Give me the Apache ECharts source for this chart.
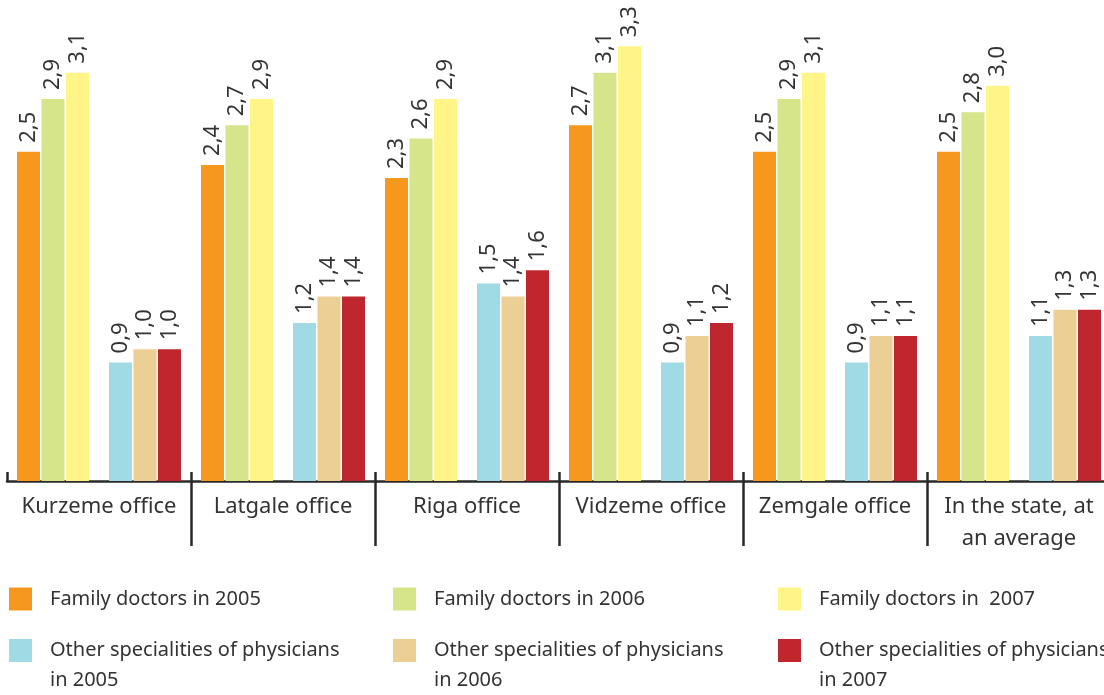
<!DOCTYPE html>
<html><head><meta charset="utf-8">
<script src="https://cdn.jsdelivr.net/npm/echarts@6/dist/echarts.min.js"></script>
<style>html,body{margin:0;padding:0;background:#fff}#c{width:1104px;height:695px}</style>
</head><body><div id="c"></div>
<script>
const categories = ['Kurzeme office', 'Latgale office', 'Riga office', 'Vidzeme office', 'Zemgale office', 'In the state, at\nan average'];
const family2005 = [2.5, 2.4, 2.3, 2.7, 2.5, 2.5];
const family2006 = [2.9, 2.7, 2.6, 3.1, 2.9, 2.8];
const family2007 = [3.1, 2.9, 2.9, 3.3, 3.1, 3.0];
const other2005 = [0.9, 1.2, 1.5, 0.9, 0.9, 1.1];
const other2006 = [1.0, 1.4, 1.4, 1.1, 1.1, 1.3];
const other2007 = [1.0, 1.4, 1.6, 1.2, 1.1, 1.3];
const seriesNames = ['Family doctors in 2005', 'Family doctors in 2006', 'Family doctors in  2007',
  'Other specialities of physicians in 2005', 'Other specialities of physicians in 2006', 'Other specialities of physicians in 2007'];
const colors = ['#F7981E', '#D6E48A', '#FEF488', '#9FDAE5', '#ECCF94', '#BF262E'];
const values = [family2005, family2006, family2007, other2005, other2006, other2007];

const FONT = 'Noto Sans';
const TXT = '#333333';

function barSeries(i) {
  return {
    name: seriesNames[i], type: 'bar', data: values[i], barWidth: 23, barGap: '6.5%',
    itemStyle: { color: colors[i] },
    label: {
      show: true, position: 'top', rotate: 90, align: 'left', verticalAlign: 'middle', distance: 9,
      fontFamily: FONT, fontSize: 22, color: TXT,
      formatter: p => p.value.toFixed(1).replace('.', ',')
    }
  };
}
const series = [barSeries(0), barSeries(1), barSeries(2),
  { name: 'gap', type: 'bar', data: categories.map(() => null), barWidth: 17.4, barGap: '6.5%', silent: true },
  barSeries(3), barSeries(4), barSeries(5)];

const legendCols = [9, 393, 778];
const legends = seriesNames.map((n, i) => {
  const row = Math.floor(i / 3), col = i % 3;
  const two = row === 1;
  return {
    data: [{ name: n, icon: 'rect', itemStyle: { color: colors[i] } }],
    left: legendCols[col], top: two ? 601.5 : 584, padding: 0,
    itemWidth: 23, itemHeight: 23, selectedMode: false,
    formatter: two ? (s => '\n' + s.replace(/ in (\d{4})$/, '\nin $1')) : undefined,
    textStyle: {
      fontFamily: FONT, fontSize: 20, color: TXT,
      lineHeight: 30, padding: two ? [8, 0, 0, 13] : [0, 0, 0, 13]
    }
  };
});

const chart = echarts.init(document.getElementById('c'), null, { renderer: 'canvas' });
chart.setOption({
  animation: false,
  color: colors,
  grid: { left: 7, top: 20, width: 1104, height: 461, containLabel: false, outerBoundsMode: 'none' },
  xAxis: [{
    type: 'category', data: categories, position: 'bottom',
    axisLine: { show: true, lineStyle: { color: '#2a2a2a', width: 2.5 } },
    axisTick: { show: true, inside: false, length: 65, interval: (idx) => idx !== 0, lineStyle: { color: '#2a2a2a', width: 2.5 } },
    axisLabel: { margin: 10, fontFamily: FONT, fontSize: 22, color: TXT, lineHeight: 32, interval: 0 }
  }, {
    type: 'category', data: categories, position: 'bottom',
    axisLine: { show: false },
    axisTick: { show: true, inside: true, length: 9, lineStyle: { color: '#2a2a2a', width: 2.5 } },
    axisLabel: { show: false }
  }],
  yAxis: { type: 'value', min: 0, max: 3.5, show: false, splitLine: { show: false } },
  legend: legends,
  series: series
});
</script></body></html>
